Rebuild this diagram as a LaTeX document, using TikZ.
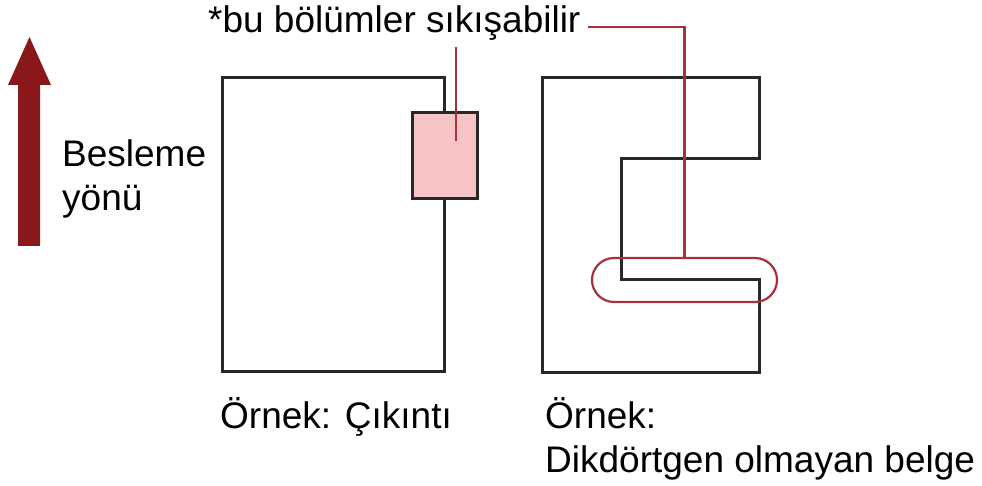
\documentclass[tikz,border=0pt]{standalone}
\usepackage{fontspec}
\setmainfont{Liberation Sans}
\definecolor{arrowred}{RGB}{138,24,26}
\definecolor{callred}{RGB}{168,48,60}
\definecolor{pinkfill}{RGB}{247,196,197}
\definecolor{docline}{RGB}{40,40,40}
\begin{document}
\begin{tikzpicture}[x=1pt,y=-1pt,
  lbl/.style={anchor=base west,inner sep=0pt,font=\fontsize{37}{44}\selectfont},
  docedge/.style={draw=docline,line width=3pt},
  callline/.style={draw=callred,line width=2.2pt}]
\useasboundingbox (0,0) rectangle (982,486);
% feed direction arrow
\fill[arrowred] (18,246) -- (18,85) -- (8,85) -- (29.5,37) -- (51,85) -- (40,85) -- (40,246) -- cycle;
\node[lbl] (bes) at (62,167) {Besleme};
\node[lbl] (yon) at (62,211) {yönü};
% left document with protrusion
\node[docedge,rectangle,inner sep=0pt,minimum width=222,minimum height=293] (doc1) at (333,224.5) {};
\node[docedge,fill=pinkfill,rectangle,inner sep=0pt,minimum width=65,minimum height=86] (pbox) at (444.5,156) {};
% right non-rectangular document
\draw[docedge,line join=miter] (542,78) -- (759,78) -- (759,159) -- (621,159) -- (621,280) -- (759,280) -- (759,372) -- (542,372) -- cycle;
% callout
\node[lbl] (note) at (208,33) {*bu bölümler sıkışabilir};
\coordinate (c1) at (588,27);
\node[callline,rectangle,rounded corners=22pt,inner sep=0pt,minimum width=185,minimum height=44] (pill) at (684.5,280) {};
\draw[callline] (c1) -| (pill.north);
\coordinate (c2) at (456,47);
\coordinate (c3) at (456,141);
\draw[callline] (c2) -- (c3);
% labels
\node[lbl] (ex1) at (220,428) {Örnek: Çıkıntı};
\node[lbl] (ex2) at (545,428) {Örnek:};
\node[lbl] (ex3) at (545,472) {Dikdörtgen olmayan belge};
\end{tikzpicture}
\end{document}
